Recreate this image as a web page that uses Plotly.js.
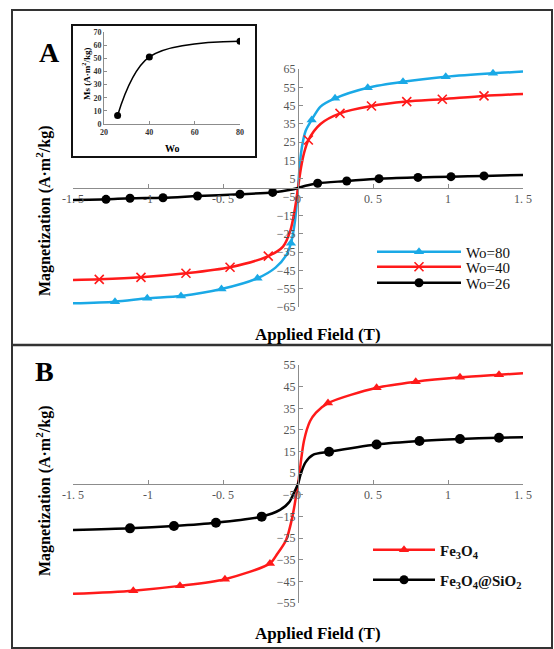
<!DOCTYPE html>
<html>
<head>
<meta charset="utf-8">
<script src="https://cdn.plot.ly/plotly-3.0.1.min.js"></script>
<style>html,body{margin:0;padding:0;background:#fff;}#chart{width:554px;height:649px;}</style>
</head>
<body>
<div id="chart"></div>
<script>
// ---------- Panel A: magnetization curves for different Wo ----------
const a80CurveX = [-1.5, -1.22, -1.005, -0.78, -0.51, -0.27, -0.15, -0.08, -0.047, -0.02, 0, 0.02, 0.05, 0.091, 0.15, 0.247, 0.465, 0.70, 0.985, 1.30, 1.5];
const a80CurveY = [-63.0, -62.1, -60.3, -59.0, -55.2, -49.3, -43.5, -37.0, -30.2, -18.0, 0, 19.0, 31.0, 37.2, 44.5, 49.0, 54.8, 58.1, 60.8, 62.7, 63.6];
const a80MarkX = [-1.22, -1.005, -0.78, -0.51, -0.27, -0.047, 0.091, 0.247, 0.465, 0.70, 0.985, 1.30];
const a80MarkY = [-62.1, -60.3, -59.0, -55.2, -49.3, -30.2, 37.2, 49.0, 54.8, 58.1, 60.8, 62.7];

const a40CurveX = [-1.5, -1.325, -1.047, -0.747, -0.453, -0.198, -0.1, -0.05, -0.02, 0, 0.02, 0.04, 0.069, 0.15, 0.28, 0.49, 0.725, 0.962, 1.24, 1.5];
const a40CurveY = [-50.3, -49.9, -48.8, -46.6, -43.3, -37.2, -32.0, -23.0, -11.0, 0, 11.0, 19.0, 26.2, 35.0, 40.8, 44.8, 47.2, 48.5, 50.3, 51.4];
const a40MarkX = [-1.325, -1.047, -0.747, -0.453, -0.198, 0.069, 0.28, 0.49, 0.725, 0.962, 1.24];
const a40MarkY = [-49.9, -48.8, -46.6, -43.3, -37.2, 26.2, 40.8, 44.8, 47.2, 48.5, 50.3];

const a26CurveX = [-1.5, -1.28, -1.12, -0.90, -0.67, -0.387, -0.169, -0.05, 0, 0.05, 0.131, 0.325, 0.54, 0.80, 1.02, 1.24, 1.5];
const a26CurveY = [-6.6, -6.2, -5.6, -5.3, -4.4, -3.4, -2.4, -1.0, 0, 1.2, 2.6, 3.8, 5.1, 5.8, 6.2, 6.6, 7.1];
const a26MarkX = [-1.28, -1.12, -0.90, -0.67, -0.387, -0.169, 0.131, 0.325, 0.54, 0.80, 1.02, 1.24];
const a26MarkY = [-6.2, -5.6, -5.3, -4.4, -3.4, -2.4, 2.6, 3.8, 5.1, 5.8, 6.2, 6.6];

const aNames = ['Wo=80', 'Wo=40', 'Wo=26'];

// ---------- Inset: Ms vs Wo ----------
const insetWo = [26, 40, 80];
const insetMs = [6.5, 51, 63];
const insetXTicks = [20, 40, 60, 80];
const insetYTicks = [0, 10, 20, 30, 40, 50, 60, 70];

// ---------- Panel B: Fe3O4 and Fe3O4@SiO2 ----------
const bFeCurveX = [-1.5, -1.098, -0.787, -0.487, -0.187, -0.14, -0.08, -0.04, 0, 0.04, 0.08, 0.12, 0.2, 0.524, 0.785, 1.08, 1.34, 1.5];
const bFeCurveY = [-50.8, -49.3, -47.1, -44.0, -36.7, -32.5, -26.0, -16.0, 0, 20.0, 29.0, 33.0, 37.4, 44.5, 47.3, 49.3, 50.5, 51.2];
const bFeMarkX = [-1.098, -0.787, -0.487, -0.187, 0.2, 0.524, 0.785, 1.08, 1.34];
const bFeMarkY = [-49.3, -47.1, -44.0, -36.7, 37.4, 44.5, 47.3, 49.3, 50.5];

const bSiCurveX = [-1.5, -1.12, -0.827, -0.547, -0.242, -0.12, -0.06, -0.02, 0, 0.02, 0.05, 0.1, 0.207, 0.524, 0.81, 1.08, 1.34, 1.5];
const bSiCurveY = [-21.3, -20.5, -19.4, -17.9, -15.1, -12.0, -8.5, -3.0, 0, 5.0, 10.0, 13.5, 14.9, 18.3, 19.9, 20.8, 21.4, 21.6];
const bSiMarkX = [-1.12, -0.827, -0.547, -0.242, 0.207, 0.524, 0.81, 1.08, 1.34];
const bSiMarkY = [-20.5, -19.4, -17.9, -15.1, 14.9, 18.3, 19.9, 20.8, 21.4];

const bNames = ['Fe<sub>3</sub>O<sub>4</sub>', 'Fe<sub>3</sub>O<sub>4</sub>@SiO<sub>2</sub>'];

// tick labels
const xTickVals = [-1.5, -1, -0.5, 0, 0.5, 1, 1.5];
const xTickText = ['-1. 5', '-1', '-0. 5', '0', '0. 5', '1', '1. 5'];

// ---------- styling / layout helpers ----------
const W = 554, H = 649;
const px = v => v / W;
const py = v => 1 - v / H;
const CYAN = '#1aa9e6', RED = '#ff1a1a', BLACK = '#000000';
const serif = 'Liberation Serif, Times New Roman, serif';

function curve(x, y, color, xa, ya) {
  return {x, y, xaxis: xa, yaxis: ya, type: 'scatter', mode: 'lines', showlegend: false,
    line: {color, width: 2.5, shape: 'spline', smoothing: 0.8}, hoverinfo: 'skip'};
}
function marks(x, y, color, sym, size, xa, ya) {
  const m = {color, size, symbol: sym};
  if (sym === 'x-thin') m.line = {color, width: 1.6};
  return {x, y, xaxis: xa, yaxis: ya, type: 'scatter', mode: 'markers', showlegend: false, marker: m, hoverinfo: 'skip'};
}
function legendEntry(name, color, sym, size, legendId) {
  const m = {color, size, symbol: sym};
  if (sym === 'x-thin') m.line = {color, width: 1.6};
  return {x: [null], y: [null], xaxis: 'x', yaxis: 'y', type: 'scatter', mode: 'lines+markers', name,
    legend: legendId, line: {color, width: 2.5}, marker: m};
}

const traces = [
  curve(a80CurveX, a80CurveY, CYAN, 'x', 'y'),
  marks(a80MarkX, a80MarkY, CYAN, 'triangle-up', 9, 'x', 'y'),
  curve(a40CurveX, a40CurveY, RED, 'x', 'y'),
  marks(a40MarkX, a40MarkY, RED, 'x-thin', 9, 'x', 'y'),
  curve(a26CurveX, a26CurveY, BLACK, 'x', 'y'),
  marks(a26MarkX, a26MarkY, BLACK, 'circle', 9, 'x', 'y'),
  curve(bFeCurveX, bFeCurveY, RED, 'x2', 'y2'),
  marks(bFeMarkX, bFeMarkY, RED, 'triangle-up', 9, 'x2', 'y2'),
  curve(bSiCurveX, bSiCurveY, BLACK, 'x2', 'y2'),
  marks(bSiMarkX, bSiMarkY, BLACK, 'circle', 10, 'x2', 'y2'),
  {x: insetWo, y: insetMs, xaxis: 'x3', yaxis: 'y3', type: 'scatter', mode: 'lines+markers', showlegend: false,
   line: {color: BLACK, width: 1.5, shape: 'spline', smoothing: 1}, marker: {color: BLACK, size: 7}, hoverinfo: 'skip'},
  legendEntry(aNames[0], CYAN, 'triangle-up', 9, 'legend'),
  legendEntry(aNames[1], RED, 'x-thin', 9, 'legend2'),
  legendEntry(aNames[2], BLACK, 'circle', 9, 'legend3'),
  legendEntry(bNames[0], RED, 'triangle-up', 9, 'legend4'),
  legendEntry(bNames[1], BLACK, 'circle', 9, 'legend5')
];

const xDom = [px(73), px(523)];
const aDom = [py(307), py(69)];
const bDom = [py(603), py(365)];
const tickFont = {family: serif, size: 12, color: '#555'};
const axisLine = {showline: true, linecolor: '#8c8c8c', linewidth: 1, showgrid: false, zeroline: false,
  ticks: 'inside', ticklen: 4, tickcolor: '#8c8c8c', tickfont: tickFont, fixedrange: true};

function legendBox(xp, yp, size, bold, iw) {
  return {x: px(xp), y: py(yp), xanchor: 'left', yanchor: 'middle', bgcolor: 'rgba(0,0,0,0)',
    borderwidth: 0, itemwidth: iw, font: {family: serif, size, color: '#111', weight: bold ? 'bold' : 'normal'}};
}

const ann = (text, xp, yp, size, extra) => Object.assign({text, x: px(xp), y: py(yp), xref: 'paper', yref: 'paper',
  showarrow: false, xanchor: 'center', yanchor: 'middle', font: {family: serif, size, color: '#000', weight: 'bold'}}, extra || {});

const layout = {
  width: W, height: H, margin: {l: 0, r: 0, t: 0, b: 0}, paper_bgcolor: '#fff', plot_bgcolor: 'rgba(0,0,0,0)',
  showlegend: true,
  xaxis: Object.assign({}, axisLine, {domain: xDom, range: [-1.5, 1.5], anchor: 'free', position: (aDom[0] + aDom[1]) / 2,
    tickmode: 'array', tickvals: xTickVals, ticktext: xTickText}),
  yaxis: Object.assign({}, axisLine, {domain: aDom, range: [-65.02, 65.02], anchor: 'free', position: (xDom[0] + xDom[1]) / 2,
    tickmode: 'linear', tick0: 5, dtick: 10}),
  xaxis2: Object.assign({}, axisLine, {domain: xDom, range: [-1.5, 1.5], anchor: 'free', position: (bDom[0] + bDom[1]) / 2,
    tickmode: 'array', tickvals: xTickVals, ticktext: xTickText}),
  yaxis2: Object.assign({}, axisLine, {domain: bDom, range: [-55.02, 55.02], anchor: 'free', position: (xDom[0] + xDom[1]) / 2,
    tickmode: 'linear', tick0: 5, dtick: 10}),
  xaxis3: Object.assign({}, axisLine, {domain: [px(104), px(240)], range: [20, 80], anchor: 'y3',
    tickmode: 'array', tickvals: insetXTicks, ticks: 'inside', ticklen: 3,
    tickfont: {family: serif, size: 8, color: '#333', weight: 'bold'}}),
  yaxis3: Object.assign({}, axisLine, {domain: [py(124), py(32)], range: [0, 70], anchor: 'x3',
    tickmode: 'array', tickvals: insetYTicks, ticks: 'inside', ticklen: 3,
    tickfont: {family: serif, size: 8, color: '#333', weight: 'bold'}}),
  legend: legendBox(372, 252, 15, false, 84),
  legend2: legendBox(372, 267, 15, false, 84),
  legend3: legendBox(372, 283, 15, false, 84),
  legend4: legendBox(368, 550, 15, true, 62),
  legend5: legendBox(368, 580, 15, true, 62),
  annotations: [
    ann('A', 49, 52, 28),
    ann('B', 44, 372, 28),
    ann('Magnetization (A·m<sup>2</sup>/kg)', 43, 211, 16, {textangle: -90}),
    ann('Magnetization (A·m<sup>2</sup>/kg)', 43, 491, 16, {textangle: -90}),
    ann('Applied Field (T)', 318, 334, 17),
    ann('Applied Field (T)', 318, 633, 17),
    ann('Ms (A·m<sup>2</sup>/kg)', 86, 74, 9, {textangle: -90}),
    ann('Wo', 172, 148, 10)
  ],
  shapes: [
    {type: 'rect', xref: 'paper', yref: 'paper', x0: px(12), x1: px(552), y0: py(10), y1: py(648), line: {color: '#333', width: 2}},
    {type: 'line', xref: 'paper', yref: 'paper', x0: px(12), x1: px(552), y0: py(345), y1: py(345), line: {color: '#333', width: 2.5}},
    {type: 'rect', xref: 'paper', yref: 'paper', x0: px(72), x1: px(256), y0: py(25), y1: py(157), line: {color: '#111', width: 2}, fillcolor: 'rgba(0,0,0,0)'}
  ]
};

Plotly.newPlot('chart', traces, layout, {displayModeBar: false, staticPlot: true});
</script>
</body>
</html>
